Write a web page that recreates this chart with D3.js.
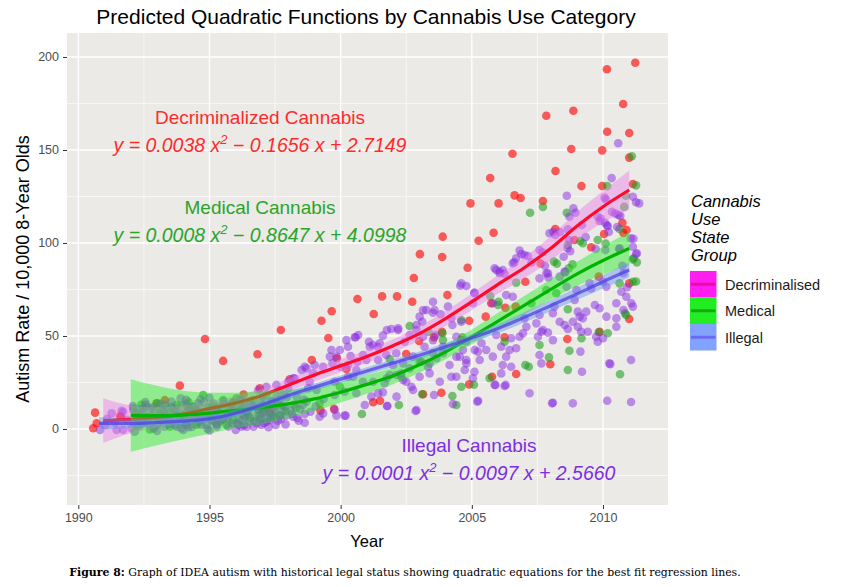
<!DOCTYPE html>
<html>
<head>
<meta charset="utf-8">
<script src="https://cdn.jsdelivr.net/npm/d3@7"></script>
<style>
  body { margin: 0; background: #fff; }
  text { font-family: 'Liberation Sans', Arial, sans-serif; }
</style>
</head>
<body>
<div id="chart"></div>
<script>
// ---- data ----
const groups = ['Decriminalised', 'Medical', 'Illegal'];

const decrimPoints = [
  [2011.23,196.9],[2010.15,193.4],[2010.77,174.7],[2007.84,168.4],[2008.87,171.1],[2010.16,159.8],[2011.0,159.1],
  [2008.79,150.5],[2009.97,149.8],[2011.0,145.9],[2006.55,148.0],[2008.19,138.7],[2005.70,134.9],[2009.18,130.6],
  [2009.97,130.6],[2011.14,131.7],[2006.63,125.6],[2006.86,124.2],[2004.95,121.3],[2006.02,121.3],[2007.71,122.6],
  [2010.74,110.8],[2005.83,105.5],[2005.26,101.2],[2010.04,104.8],[2010.9,107],[2009.55,97.7],[2008.91,101.6],
  [2008.18,107.5],[2003.89,103.4],[2003.02,94],[2003.87,92.5],[2002.79,81.2],[2004.84,86.7],[2000.64,69.9],
  [2001.58,71.3],[2002.15,71.3],[2002.73,68.4],[1999.66,63.3],[1999.27,58.2],[2001.26,61.8],[1997.72,53.2],
  [1999.53,48.9],[2004.07,72],[1998.9,37.1],[1998.06,26.7],[1999.86,38],[2003.56,49.3],[2003.86,52.2],
  [2002.99,47.3],[2002.5,40.3],[2003.84,19.5],[2003.14,18.7],[2001.24,14.4],[1999.75,10.9],[1999.23,10],
  [2004.6,47.8],[2004.9,58.2],[2000.22,32.3],[2007.04,79.2],[2007.62,89],[2005.74,67.6],[2006.28,65.2],
  [2006.67,65.8],[2005.53,60.4],[2011.0,59.1],[2011.0,78.3],[2009.84,81.9],[2008.64,48.4],[2007.99,34.8],
  [2006.69,29.6],[2005.77,28.1],[2004.9,24],[2006.25,49.3],[2009.87,52.3],[2010.78,105.4],[2001.5,15.2],
  [1995.52,36.6],[1993.87,23.3],[1990.64,8.8],[1990.57,0.4],[1990.7,3.1],[1996.92,21.9],[1991.59,7],
  [1994.83,48.4],[1996.83,40.2],[1991.63,6.6],[1992.99,13.8],[1995.9,14.5],[1994.2,10.5],
  [1993.3,15.5],[1996.3,18.5],[1997.3,9]
];

const medicalPoints = [
  [2007.22,116.3],[2007.71,119.4],[2011.1,146.6],[2011.26,131],[2010.87,125.4],[2010.81,119.4],[2010.16,130.6],
  [2008.62,116.3],[2009.13,101.1],[2009.8,101.6],[2008.66,98.9],[2010.63,107.5],[2011.17,91.8],[2009.23,99.9],
  [2008.24,88.9],[2008.84,88.5],[2010.1,99.7],[2011.29,89.6],[2011.26,79.3],[2008.13,90],[2006.69,78.7],
  [2006.02,68.4],[2005.7,71.5],[2007.84,74.7],[2008.22,73],[2008.66,64.4],[2010.63,78.3],[2010.88,61.3],
  [2010.18,51.5],[2009.84,52],[2009.18,48.8],[2008.72,42.1],[2007.58,45.2],[2007.94,38.5],[2007.04,34.4],
  [2005.68,27.3],[2005.08,23.8],[2004.6,22.7],[2010.65,29.4],[2011.14,91.2],[2011.14,79.2],[2010.84,62.2],
  [2004.64,49.3],[2007.27,67.6],[2006.0,66.7],[2004.26,17.7],[2003.11,18.7],[2002.22,12.9],[2000.81,8.1],
  [2004.41,12.9],[2007.17,33.5],[2008.7,86.4],[2008.66,31.7],[2002.63,55.4],[2003.88,51.5],[2004.6,58.6],
  [2001.87,37.6],[2003.01,36.2],[2006.25,46.9],[2003.35,52.2],[1997.68,7],[1999.97,22.7],[1999.2,13.8],
  [2002.31,28.1],[2003.9,47.8],
  [1992.99,13.8],[1994.76,18.3],[1993.75,12.9],[1994.38,12],[1995.52,15.6],[1996.03,16.5],[1996.66,15.6],
  [1997.17,18.3],[1992.6,6.6],[1993.24,5.8],[1994,7.5],[1994.89,8.4],[1995.4,3.9],[1995.9,4.8],[1996.54,5.8],
  [1997.43,6.6],[1992.1,10.2],[1992.28,2.2],[1993.49,1.2],[1994.5,2.2],[1995.65,2.2],[1992.73,-0.2],
  [1993.1,9],[1993.6,7.5],[1994.2,14.5],[1995.1,12.5],[1995.8,10.5],[1996.4,9],[1996.9,7],[1997.6,14],[1992.4,13],
  [1993.4,11],[1994.6,6],[1995.3,9.5],[1996.2,12.5],[1997.0,11],[1997.9,9.5],[1998.3,11.5]
];

const illegalPoints = [
  [2010.58,153.6],[2010.33,134.9],[2010.06,124.4],[2008.62,125.4],[2008.87,118.6],[2008.95,116.3],[2008.72,114.1],
  [2010.34,116.8],[2010.58,115.1],[2011.14,124.9],[2011.26,121.9],[2011.38,121.3],[2009.8,114.1],[2010.08,110.9],
  [2010.15,109.5],[2007.96,105.2],[2008.18,104.3],[2008.66,107.4],[2008.65,97.2],[2007.58,96.2],[2006.82,95.9],
  [2007.01,93.5],[2006.69,91.8],[2008.5,92.6],[2009.2,109.7],[2011.06,102.5],[2011.14,98],[2011.29,94.5],
  [2010.63,97.2],[2010.09,96.2],[2009.87,111.8],[2010.11,123.4],[2010.46,115.9],[2010.66,114.6],[2008.1,105.9],
  [2008.36,105.9],[2008.71,101.4],[2008.75,95.6],[2009.34,103.2],[2009.92,113.1],[2010.18,109],[2010.22,105.9],
  [2010.54,108.6],[2011.16,102.3],[2011.26,94.1],[2006.89,94.1],[2006.62,89.6],[2007.28,89.6],[2007.69,95],
  [2007.79,87.8],[2007.92,81.5],[2008.56,84.2],[2009.72,96.8],[2010.62,96.8],[2010.74,87.8],[2006.06,84.6],
  [2006.25,83.3],
  [2007.14,93],[2006.56,89.1],[2005.93,85.5],[2006.06,83.7],[2005.1,73.3],[2004.79,76.9],[2004.6,78.3],
  [2006.56,71.1],[2007.58,81],[2007.9,83.7],[2008.54,84.6],[2008.61,76.5],[2008.99,74.7],[2008.92,69.4],
  [2009.49,78.3],[2010,79.2],[2010.13,76.5],[2010.7,73.8],[2010.89,71.1],[2011.08,67.6],[2011.14,65.8],
  [2010.51,67.6],[2009.69,66.7],[2009.87,64.9],[2009.36,63.1],[2009.23,59.5],[2008.85,57.7],[2008.54,55.9],
  [2008.66,53.8],[2009.17,52.3],[2010.13,60.4],[2010.51,59.5],[2010.51,55],[2010,48.8],[2009.8,46.9],
  [2011.07,37.1],[2010.28,34.9],[2009.2,30.8],[2009.14,41.6],[2008.09,47.8],[2007.65,52.3],[2007.9,51.8],
  [2007.46,56.8],[2007.08,55],[2007.01,59.5],[2006.82,49.6],[2006.69,43.4],[2006.44,42.5],[2006.12,44.2],
  [2006.31,38.9],[2005.8,38.9],[2005.55,42.5],[2005.23,41.6],[2005.3,37.1],[2004.79,37.1],[2004.73,31.7],
  [2005.1,30.8],[2006.18,34.4],[2006.5,33.5],[2007.58,39.8],[2007.65,35.3],[2006.12,29.9],[2005.87,23.7],
  [2006.25,23.1],[2007.2,19.2],[2005.24,15.2],[2008.06,13.8],[2008.85,13.8],[2010.16,15.2],[2011.07,14.5],
  [2008.09,62.2],[2008.35,57.7],[2009.11,60.4],[2009.74,49.6],[2007.58,61.3],[2008.15,65.8],[2004.54,38.9],
  [2005.04,27.3],[2005.93,50.5],[2006.5,48.8],[2005.8,67.6],[2006.31,72],[2010.78,83.7],
  [2004.56,77],[2003.14,63.8],[2003.52,62.5],[2003.81,61.7],[2004.22,59.5],[2004.26,55.9],[2004.6,57.7],
  [2003.11,57.7],[2002.89,55.9],[2001.93,53.8],[2002.19,53.2],[2001.61,50.2],[2001.23,45.2],[2001.08,46.9],
  [2001.42,44.2],[2000.57,49.3],[2000.85,39.8],[2000.64,36.2],[2000.38,39.2],[2000.28,34.4],[1999.99,33.5],
  [1999.65,42.5],[1999.59,38.9],[1999.69,35.3],[1999.33,33.5],[1998.95,29.9],[1998.63,33.5],[1998.25,27.3],
  [1998,25.4],[1997.68,21],[1997.87,18.3],[1998.32,17.4],[1998.76,21.9],[1999.08,21],[1998.57,12.9],
  [1998.63,3.4],[1999.2,6.6],[2000.15,7.2],[1999.77,10.2],[2000.92,12.9],[2001.78,12.4],[2001.17,17.4],
  [2001.61,19.7],[2001.68,24.6],[2002.5,25.4],[2002.7,22.7],[2002.89,10.2],[2003.56,18.3],[2003.78,25.4],
  [2004.28,13.4],[2004.15,34.4],[2004.41,28.1],[2004.79,35.3],[2004.41,38.9],[2004.66,42.5],[2004.79,46.9],
  [2002.76,38.9],[2003.08,36.2],[2003.33,33.5],[2003.65,38],[2003.9,40.7],[2002.38,35.3],[2002.63,32.6],
  [2002.31,29.9],[2001.87,29],[2002,34.4],[2003.01,28.1],[2003.39,29.9],[2000.22,47.8],[2000.28,44.2],
  [2001.49,46.1],[2002.63,50.5],[2002.44,46.9],[2003.52,47.8],[2003.14,49.6],[2003.2,44.2],[2004.41,49.6],
  [2001.74,39.8],[2002.12,40.7],[1998.51,31.7],[1998.82,25.4],[1998,21.9],[1999.77,18.3],[2000.15,20],
  [2000.6,19.2],[2000.85,25.4],[2000.47,28.1],
  [2008.09,14.1],[2010.24,35.3],[2006.29,23.7],[2005.9,23.7],[2005.21,14.7],[2002.86,9.7],[2001.77,12.4],
  [2010.78,64],[2010.92,76.2],[2009.55,75.6],[2009.04,63.1],[2009.04,55],[2009.42,52.3],[2007.52,49.6],
  [2007.71,53.2],[2006.95,51.5],[2005.37,46.1],[2005.11,42.5],[2003.9,44.2],[2003.52,40.7],[2003.39,35.3],
  [2004.22,28.1],[2003.62,50.5],[2002.89,53.2],[2002.19,54.1],[2001.76,53.2],[2003.01,60.4],[2003.27,64],
  [2003.58,64],[2004.09,65.8],[2003.52,68.4],[2005.1,73],[2005.04,67.6],[2005.87,86.4],[2006.18,85.5],
  [2007.84,83.7],[2008.35,81.9],[2000.67,50.5],[2001.11,44.2],[2001.43,37.1],[2000.98,37.1],[2000.6,31.7],
  [2000.28,28.1],[1999.97,42.5],[1999.77,25.4],[2001.24,25.4],[2001.76,27.3],[2002.12,29],[2002.38,26.3],
  [2002.76,21],[2002.13,17.4],[2001.43,19.2],
  [2000.54,49.3],[1999.84,38.9],[1999.01,34.4],[1998.7,32.6],[1998.19,27.3],[1997.55,23.7],[1997.17,22.7],
  [1998.63,8.1],[1999.33,8.4],[1999.84,7.2],[2000.19,7.2],[1996.22,1.2],[1991.27,8.4],[1991.65,9.8],
  [1990.83,-0.5],[1998.19,6.6],[1997.68,7.5],[1997.11,9.3],[1996.86,21],[1998.7,14.7],[1991.71,9.3],
  [1992.48,11.1],[1991.02,2.2],[1991.46,-0.5],[1991.71,-0.5],[1992.03,0.4],[1996.98,2.2],[1997.3,4.8],
  [1992.1,11.1],[1992.29,8.4],[1992.61,12],[1992.8,7.5],[1993.18,10.2],[1993.37,6.6],[1993.56,12],
  [1993.88,8.4],[1994.07,5.8],[1994.26,11.1],[1994.45,7.5],[1994.64,12],[1994.96,10.2],[1995.15,6.6],
  [1995.34,12],[1995.66,8.4],[1995.85,12.9],[1996.16,10.2],[1996.35,6.6],[1996.54,13.8],[1996.86,10.2],
  [1997.05,17.4],[1997.18,12],[1997.37,14.7],[1997.56,17.4],[1992.99,2.2],[1993.75,1.2],[1994.13,2.2],
  [1994.89,2.2],[1995.28,1.2],[1996.04,3.1],[1996.42,1.2],[1996.8,3.1],[1997.18,3.9],[1992.35,4.8],
  [1993.18,4.8],[1993.56,3.9],[1993.94,3.9],[1994.32,4.8],[1994.7,4.8],[1995.08,4.8],[1995.47,4.8],
  [1996.23,4.8],[1996.99,5.8],[1997.37,7.5],
  [1992.2,6],[1992.45,3],[1992.9,9.5],[1993.05,5.5],[1993.3,13],[1993.45,2.5],[1993.7,9.8],[1993.85,5.5],
  [1994.1,13.5],[1994.2,1],[1994.55,9.5],[1994.6,3.5],[1994.8,14.5],[1995.0,6.5],[1995.2,10.5],[1995.25,3],
  [1995.55,13.5],[1995.7,5.8],[1995.95,9.5],[1996.1,2.2],[1996.3,11.8],[1996.45,7.8],[1996.7,4.2],
  [1996.75,12.5],[1997.0,8.5],[1997.25,1],[1997.45,10.8],[1997.6,4.5],[1997.8,12.5],[1997.9,2.5],
  [1998.1,10],[1998.4,4.5],[1992.55,14.5],[1993.9,16.5],[1995.0,16.8],[1996.2,16],[1992.15,-1.5],
  [1993.0,-1],[1994.0,-0.5],[1995.0,-0.8],[1996.0,-0.5],[1991.1,5.5],[1991.4,3.5],[1991.85,5],
  // dense overlap in the early years
  [1992.12,3.2],[1992.18,8.1],[1992.08,12.3],[1992.32,1.4],[1992.27,6.3],[1992.36,10.4],[1992.52,4.1],
  [1992.47,8.8],[1992.58,13.2],[1992.71,2.3],[1992.66,6.2],[1992.75,10.9],[1992.88,0.3],[1992.93,5.2],
  [1992.86,11.8],[1993.08,3.4],[1993.14,7.7],[1993.11,13.6],[1993.28,1.2],[1993.33,7.1],[1993.26,9.7],
  [1993.52,4.3],[1993.47,8.6],[1993.55,14.8],[1993.68,2.1],[1993.73,7.3],[1993.66,11.2],[1993.92,0.4],
  [1993.87,6.2],[1993.95,12.6],[1994.08,3.3],[1994.14,9.2],[1994.11,15.7],[1994.33,1.1],[1994.28,6.8],
  [1994.35,11.9],[1994.52,5.1],[1994.47,10.1],[1994.56,13.8],[1994.68,2.2],[1994.73,8.3],[1994.66,15.9],
  [1994.92,0.2],[1994.87,6.1],[1994.95,11.6],[1995.12,4.2],[1995.07,9.3],[1995.16,13.7],[1995.28,2.3],
  [1995.33,6.9],[1995.26,11.1],[1995.52,5.2],[1995.47,10.4],[1995.55,14.6],[1995.72,1.3],[1995.68,7.2],
  [1995.75,12.3],[1995.88,3.1],[1995.93,8.8],[1995.86,13.9],[1996.12,5.3],[1996.07,10.8],[1996.15,15.6],
  [1996.32,2.1],[1996.28,7.9],[1996.35,12.7],[1996.52,4.2],[1996.47,9.6],[1996.55,14.9],[1996.68,1.2],
  [1996.73,6.8],[1996.66,11.7],[1996.92,5.1],[1996.87,10.6],[1996.95,15.8],[1997.08,3.2],[1997.13,8.3],
  [1997.06,13.1],[1997.32,6.1],[1997.27,11.2],[1997.35,14.9],[1997.52,2.2],[1997.48,8.9],[1997.55,12.8],
  [1997.72,5.2],[1997.77,10.1],[1997.68,15.7],[1997.92,7.1],[1997.88,11.8],[1997.95,16.9],[1998.15,8.2],
  [1998.22,13.1],[1998.35,5.9],[1998.45,10.7],[1998.6,15.8],[1998.85,9.3],[1999.05,12.2],[1999.35,16.1]
];

// fitted curves (value and ribbon half-width) read at each year
const decrimFitYears = [1990.95,1992,1993,1994,1995,1996,1997,1998,1999,2000,2001,2002,2003,2004,2005,2006,2007,2008,2009,2010,2011];
const decrimFit      = [4.5,5.2,6.2,8,11,14,18,23.5,29,34,39,44.8,51.3,59.4,68.4,77.8,86.7,97,109,119.5,128.5];
const decrimBand     = [12,7.5,5.5,4.5,4,3.8,3.5,3.5,3.5,3.5,3.5,3.5,3.8,4,4.5,5,5.5,6.5,7.5,8.5,10.5];

const medicalFitYears = [1992,1993,1994,1995,1996,1997,1998,1999,2000,2001,2002,2003,2004,2005,2006,2007,2008,2009,2010,2011];
const medicalFit      = [7.3,7.2,7.5,8.5,10,11.5,13.5,16.2,19.8,24,28.6,34.5,41.5,49.5,58,66.5,75,83.3,90.6,97];
const medicalBand     = [19.5,16,13,11,9.5,9,7.5,6.5,5.5,5,4.5,4.2,4,4,4.5,5,5.5,6.5,7.5,9];

const illegalFitYears = [1990.8,1992,1993,1994,1995,1996,1997,1998,1999,2000,2001,2002,2003,2004,2005,2006,2007,2008,2009,2010,2011];
const illegalFit      = [3,3,3.5,4.2,5.5,8.5,13,18,22.5,26.8,31.2,35.5,39.7,44.2,48.9,54,60,66.3,72.6,79.2,85.5];
const illegalBand     = [3.5,2.5,2.2,2,2,2,2,2,2,2,2,2,2,2,2.2,2.5,2.8,3,3.3,3.6,4];

const xTicks = [1990, 1995, 2000, 2005, 2010];
const xMinor = [1992.5, 1997.5, 2002.5, 2007.5];
const yTicks = [0, 50, 100, 150, 200];
const yMinor = [-25, 25, 75, 125, 175];

const series = [
  {name: 'Decriminalised', pts: decrimPoints, years: decrimFitYears, fit: decrimFit, band: decrimBand,
   point: '#ff0000', pointAlpha: 0.62, line: '#ff0a2a', lineAlpha: 1, ribbon: '#ea7fe6', ribbonAlpha: 0.45,
   key: '#ff1ef0', keyLine: '#ee0aa8'},
  {name: 'Medical', pts: medicalPoints, years: medicalFitYears, fit: medicalFit, band: medicalBand,
   point: '#1e9e1e', pointAlpha: 0.58, line: '#00b300', lineAlpha: 1, ribbon: '#22ee22', ribbonAlpha: 0.45,
   key: '#22ec22', keyLine: '#17a817'},
  {name: 'Illegal', pts: illegalPoints, years: illegalFitYears, fit: illegalFit, band: illegalBand,
   point: '#8a2be2', pointAlpha: 0.5, line: '#4f3de6', lineAlpha: 0.72, ribbon: '#6495ed', ribbonAlpha: 0.45,
   key: '#82a2ff', keyLine: '#6a6af0'}
];

const labels = [
  {title: 'Decriminalized Cannabis', eq: ['y = 0.0038 x', '2', ' \u2212 0.1656 x + 2.7149'], color: '#ff2a2a', cx: 260, y: 124},
  {title: 'Medical Cannabis', eq: ['y = 0.0008 x', '2', ' \u2212 0.8647 x + 4.0998'], color: '#2aa52a', cx: 260, y: 214},
  {title: 'Illegal Cannabis', eq: ['y = 0.0001 x', '2', ' \u2212 0.0097 x + 2.5660'], color: '#7d2ee0', cx: 469, y: 452}
];

drawChart();

function drawChart() {
  const width = 849, height = 587;
  const panel = {left: 67, right: 668, top: 33, bottom: 505};

  const svg = d3.select('#chart').append('svg')
      .attr('width', width)
      .attr('height', height);

  const x = d3.scaleLinear([1989.569, 2012.478], [panel.left, panel.right]);
  const y = d3.scaleLinear([-40.86, 212.9], [panel.bottom, panel.top]);

  // panel + grid
  svg.append('rect')
      .attr('x', panel.left).attr('y', panel.top)
      .attr('width', panel.right - panel.left).attr('height', panel.bottom - panel.top)
      .attr('fill', '#ebeae7');

  const grid = svg.append('g');
  grid.selectAll('.vmin').data(xMinor).join('line')
      .attr('x1', d => x(d)).attr('x2', d => x(d))
      .attr('y1', panel.top).attr('y2', panel.bottom)
      .attr('stroke', '#fff').attr('stroke-width', 0.6);
  grid.selectAll('.hmin').data(yMinor).join('line')
      .attr('y1', d => y(d)).attr('y2', d => y(d))
      .attr('x1', panel.left).attr('x2', panel.right)
      .attr('stroke', '#fff').attr('stroke-width', 0.6);
  grid.selectAll('.vmaj').data(xTicks).join('line')
      .attr('x1', d => x(d)).attr('x2', d => x(d))
      .attr('y1', panel.top).attr('y2', panel.bottom)
      .attr('stroke', '#fff').attr('stroke-width', 1.3);
  grid.selectAll('.hmaj').data(yTicks).join('line')
      .attr('y1', d => y(d)).attr('y2', d => y(d))
      .attr('x1', panel.left).attr('x2', panel.right)
      .attr('stroke', '#fff').attr('stroke-width', 1.3);

  const plot = svg.append('g');

  // points
  series.forEach(s => {
    plot.append('g').selectAll('circle').data(s.pts).join('circle')
        .attr('cx', d => x(d[0]))
        .attr('cy', d => y(d[1]))
        .attr('r', 4.3)
        .attr('fill', s.point)
        .attr('fill-opacity', s.pointAlpha);
  });

  // smooths: ribbon then line, per group
  series.forEach(s => {
    const rows = s.years.map((yr, i) => ({yr, v: s.fit[i], b: s.band[i]}));
    const area = d3.area()
        .x(d => x(d.yr))
        .y0(d => y(d.v - d.b))
        .y1(d => y(d.v + d.b))
        .curve(d3.curveMonotoneX);
    const line = d3.line()
        .x(d => x(d.yr))
        .y(d => y(d.v))
        .curve(d3.curveMonotoneX);
    plot.append('path').datum(rows)
        .attr('d', area)
        .attr('fill', s.ribbon)
        .attr('fill-opacity', s.ribbonAlpha);
    plot.append('path').datum(rows)
        .attr('d', line)
        .attr('fill', 'none')
        .attr('stroke', s.line)
        .attr('stroke-opacity', s.lineAlpha)
        .attr('stroke-width', 3.2);
  });

  // equation labels
  labels.forEach(l => {
    svg.append('text')
        .attr('x', l.cx).attr('y', l.y)
        .attr('text-anchor', 'middle')
        .attr('fill', l.color)
        .style('font-size', '19px')
        .text(l.title);
    const t = svg.append('text')
        .attr('x', l.cx).attr('y', l.y + 28)
        .attr('text-anchor', 'middle')
        .attr('fill', l.color)
        .style('font-size', '19.5px')
        .style('font-style', 'italic');
    t.append('tspan').text(l.eq[0]);
    t.append('tspan').attr('dy', -8).style('font-size', '13px').text(l.eq[1]);
    t.append('tspan').attr('dy', 8).text(l.eq[2]);
  });

  // axes
  const xAxis = d3.axisBottom(x).tickValues(xTicks).tickSize(4).tickPadding(4).tickFormat(d3.format('d'));
  const yAxis = d3.axisLeft(y).tickValues(yTicks).tickSize(4).tickPadding(4);

  const gx = svg.append('g')
      .attr('transform', `translate(0, ${panel.bottom})`)
      .call(xAxis);
  const gy = svg.append('g')
      .attr('transform', `translate(${panel.left}, 0)`)
      .call(yAxis);
  [gx, gy].forEach(g => {
    g.attr('font-family', null).attr('font-size', null);
    g.select('.domain').remove();
    g.selectAll('.tick line').attr('stroke', '#333').attr('stroke-width', 1);
    g.selectAll('.tick text')
        .attr('fill', '#4d4d4d')
        .style('font-size', '12.5px')
        .style('font-family', "'Liberation Sans', Arial, sans-serif");
  });

  // titles
  svg.append('text')
      .attr('x', 366).attr('y', 24)
      .attr('text-anchor', 'middle')
      .style('font-size', '21px')
      .text('Predicted Quadratic Functions by Cannabis Use Category');

  svg.append('text')
      .attr('x', 367).attr('y', 547)
      .attr('text-anchor', 'middle')
      .style('font-size', '16.5px')
      .text('Year');

  svg.append('text')
      .attr('transform', `translate(29, ${(panel.top + panel.bottom) / 2}) rotate(-90)`)
      .attr('text-anchor', 'middle')
      .style('font-size', '18px')
      .text('Autism Rate / 10,000 8-Year Olds');

  // legend
  const legend = svg.append('g');
  ['Cannabis', 'Use', 'State', 'Group'].forEach((w, i) => {
    legend.append('text')
        .attr('x', 691).attr('y', 207 + i * 18)
        .style('font-size', '16.5px')
        .style('font-style', 'italic')
        .text(w);
  });
  series.forEach((s, i) => {
    const top = 271 + i * 26.5;
    legend.append('rect')
        .attr('x', 690).attr('y', top)
        .attr('width', 26.5).attr('height', 26.5)
        .attr('fill', s.key);
    legend.append('line')
        .attr('x1', 691).attr('x2', 715.5)
        .attr('y1', top + 13.25).attr('y2', top + 13.25)
        .attr('stroke', s.keyLine).attr('stroke-width', 3);
    legend.append('text')
        .attr('x', 725).attr('y', top + 18.5)
        .style('font-size', '14.5px')
        .attr('fill', '#1a1a1a')
        .text(s.name);
  });

  // caption
  const cap = svg.append('text')
      .attr('x', 405).attr('y', 576)
      .attr('text-anchor', 'middle')
      .style('font-family', "'DejaVu Serif', 'Liberation Serif', serif")
      .style('font-size', '10.9px');
  cap.append('tspan').style('font-weight', 'bold').text('Figure 8:');
  cap.append('tspan').text(' Graph of IDEA autism with historical legal status showing quadratic equations for the best fit regression lines.');
}
</script>
</body>
</html>
